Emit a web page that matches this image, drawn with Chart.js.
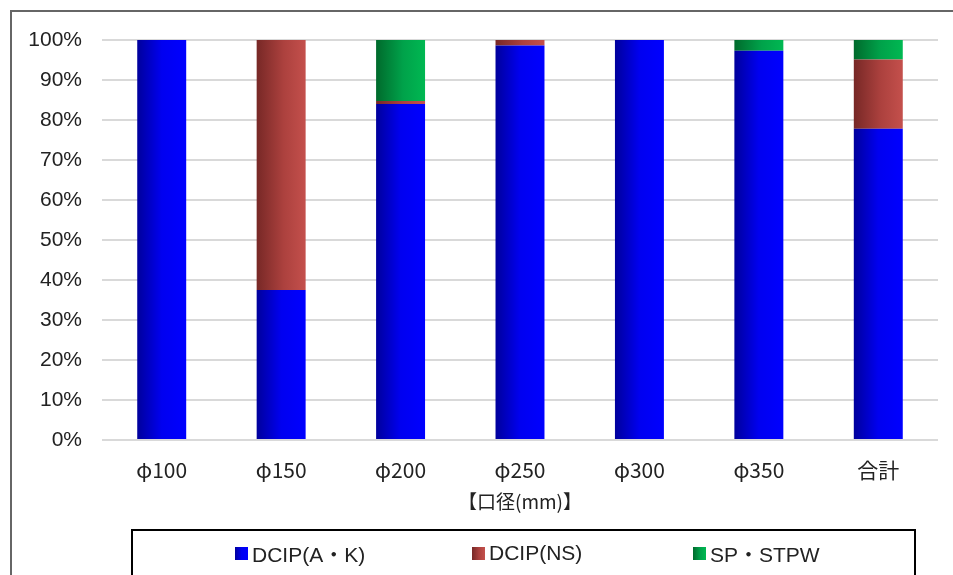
<!DOCTYPE html>
<html>
<head>
<meta charset="utf-8">
<script src="https://cdn.jsdelivr.net/npm/chart.js@4"></script>
<style>
  body { margin: 0; background: #fff; overflow: hidden; }
  #wrap { position: relative; width: 953px; height: 575px; }
  #frame { position: absolute; left: 10px; top: 10px; width: 960px; height: 600px;
           border-left: 2px solid #666; border-top: 2px solid #666; }
  #myChart { position: absolute; left: 0; top: 0; }
  #legend { position: absolute; left: 131px; top: 529px; width: 785px; height: 60px;
            border: 2px solid #000; display: flex; justify-content: flex-start;
            padding: 10px 0 0 102px; box-sizing: border-box;
            font: 21px 'Liberation Sans', 'Noto Sans CJK JP', sans-serif; color: #222; }
  #legend .item { display: flex; align-items: center; height: 24px; }
  #legend .item:nth-child(1) { width: 237px; }
  #legend .item:nth-child(2) { width: 221px; }
  #legend .box { width: 13px; height: 13px; margin-right: 4px; }
</style>
</head>
<body>
<div id="wrap">
  <div id="frame"></div>
  <canvas id="myChart" width="953" height="575"></canvas>
  <div id="legend"></div>
</div>
<script>
// Data
const categories = ['φ100', 'φ150', 'φ200', 'φ250', 'φ300', 'φ350', '合計'];
const seriesNames = ['DCIP(A・K)', 'DCIP(NS)', 'SP・STPW'];
const akValues = [100, 37.5, 84.0, 98.6, 100, 97.3, 77.8];
const nsValues = [0, 62.5, 0.75, 1.4, 0, 0, 17.3];
const spValues = [0, 0, 15.25, 0, 0, 2.7, 4.9];
const yTicks = [0, 10, 20, 30, 40, 50, 60, 70, 80, 90, 100];

// gradient stops (dark left -> bright right)
const blueStops = [[0, '#00009c'], [0.5, '#0000f0'], [1, '#0000ff']];
const redStops = [[0, '#772826'], [0.55, '#ac413e'], [1, '#c4504c']];
const greenStops = [[0, '#006a2c'], [0.55, '#00a24a'], [1, '#00b852']];

const barPct = 0.41;
const fontFamily = "'Liberation Sans', 'Noto Sans CJK JP', sans-serif";
const cjkFamily = "'Noto Sans CJK JP', 'Liberation Sans', sans-serif";
const textColor = '#222';

function barGradient(stops) {
    return function (ctx) {
        const chart = ctx.chart;
        const xScale = chart.scales.x;
        if (!chart.chartArea || !xScale) return stops[1][1];
        const cx = xScale.getPixelForValue(ctx.dataIndex);
        const half = xScale.width / categories.length * barPct / 2;
        const g = chart.ctx.createLinearGradient(cx - half, 0, cx + half, 0);
        stops.forEach(s => g.addColorStop(s[0], s[1]));
        return g;
    };
}

const myChart = new Chart(document.getElementById('myChart').getContext('2d'), {
    type: 'bar',
    data: {
        labels: categories,
        datasets: [
            {
                label: seriesNames[0],
                data: akValues,
                backgroundColor: barGradient(blueStops),
                borderWidth: 0
            },
            {
                label: seriesNames[1],
                data: nsValues,
                backgroundColor: barGradient(redStops),
                borderWidth: 0
            },
            {
                label: seriesNames[2],
                data: spValues,
                backgroundColor: barGradient(greenStops),
                borderWidth: 0
            }
        ]
    },
    options: {
        responsive: false,
        animation: false,
        layout: { padding: { top: 40, right: 15, bottom: 64, left: 0 } },
        datasets: { bar: { categoryPercentage: 1, barPercentage: barPct } },
        plugins: {
            legend: { display: false },
            tooltip: { enabled: false }
        },
        scales: {
            x: {
                stacked: true,
                afterFit: s => { s.height = 71; },
                grid: { display: false, drawTicks: false },
                border: { display: false },
                ticks: { color: textColor, padding: 17, font: { family: cjkFamily, size: 21 } },
                title: {
                    display: true,
                    text: '【口径(mm)】',
                    color: textColor,
                    padding: { top: 0, bottom: -2 },
                    font: { family: cjkFamily, size: 19 }
                }
            },
            y: {
                stacked: true,
                min: 0,
                max: 100,
                afterFit: s => { s.width = 102; },
                afterBuildTicks: s => { s.ticks = yTicks.map(v => ({ value: v })); },
                grid: { color: '#d9d9d9', lineWidth: 2, drawTicks: false },
                border: { display: false },
                ticks: {
                    color: textColor,
                    padding: 20,
                    font: { family: fontFamily, size: 21 },
                    callback: v => v + '%'
                }
            }
        }
    }
});

// legend box below the chart
const legendStops = [blueStops, redStops, greenStops];
const legendEl = document.getElementById('legend');
seriesNames.forEach((name, i) => {
    const item = document.createElement('div');
    item.className = 'item';
    const box = document.createElement('span');
    box.className = 'box';
    box.style.background = 'linear-gradient(to right, ' +
        legendStops[i].map(s => s[1] + ' ' + (s[0] * 100) + '%').join(', ') + ')';
    const txt = document.createElement('span');
    txt.textContent = name;
    item.appendChild(box);
    item.appendChild(txt);
    legendEl.appendChild(item);
});
</script>
</body>
</html>
